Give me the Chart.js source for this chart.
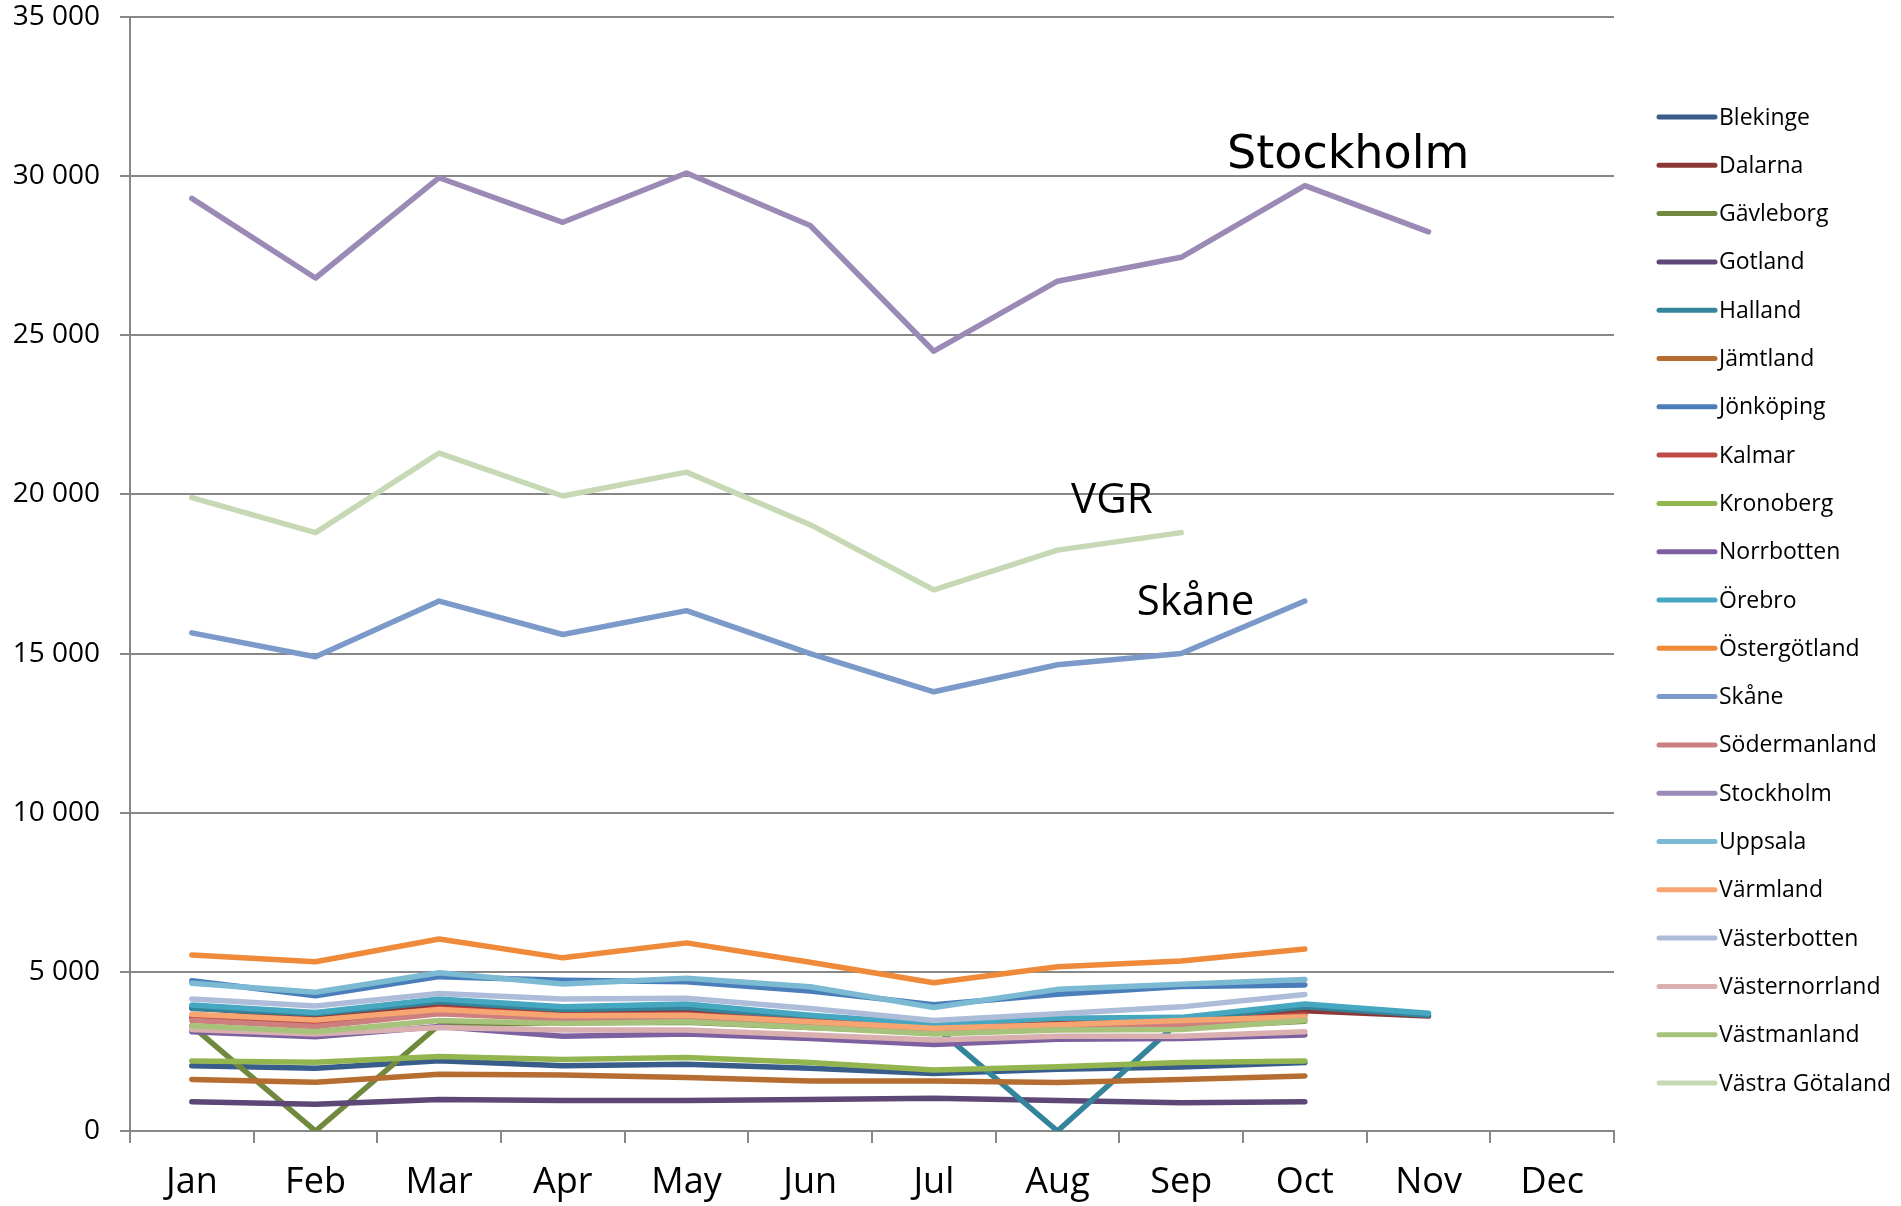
<!DOCTYPE html>
<html>
<head>
<meta charset="utf-8">
<script src="https://cdn.jsdelivr.net/npm/chart.js@4.4.1/dist/chart.umd.min.js"></script>
<style>
  html, body { margin: 0; padding: 0; background: #fff; }
  canvas { display: block; }
</style>
</head>
<body>
<canvas id="chart" width="1901" height="1206"></canvas>
<script>
// month labels on the x axis
const months = ['Jan', 'Feb', 'Mar', 'Apr', 'May', 'Jun', 'Jul', 'Aug', 'Sep', 'Oct', 'Nov', 'Dec'];

// y axis ticks
const yMin = 0;
const yMax = 35000;
const yStep = 5000;

// monthly values per region
const blekinge       = [2050, 1970, 2210, 2050, 2100, 1970, 1810, 1940, 2010, 2150, null, null];
const dalarna        = [3880, 3570, 3990, 3750, 3750, 3500, 3280, 3400, 3490, 3780, 3610, null];
const gavleborg      = [3300, 0, 3330, 3400, 3420, 3250, 3100, 3200, 3250, 3450, null, null];
const gotland        = [920, 840, 990, 960, 960, 990, 1030, 960, 890, 920, null, null];
const halland        = [3850, 3680, 4060, 3820, 3880, 3560, 3310, 0, 3490, 3900, 3640, null];
const jamtland       = [1620, 1530, 1780, 1760, 1680, 1570, 1570, 1520, 1620, 1730, null, null];
const jonkoping      = [4720, 4250, 4850, 4740, 4690, 4400, 3970, 4300, 4540, 4590, null, null];
const kalmar         = [3560, 3380, 3850, 3640, 3660, 3450, 3230, 3330, 3420, 3650, null, null];
const kronoberg      = [2200, 2160, 2340, 2250, 2310, 2150, 1920, 2020, 2150, 2200, null, null];
const norrbotten     = [3120, 2960, 3280, 2980, 3050, 2910, 2720, 2880, 2910, 3020, null, null];
const orebro         = [3960, 3720, 4150, 3900, 3990, 3640, 3360, 3540, 3570, 3990, 3700, null];
const ostergotland   = [5530, 5320, 6030, 5440, 5910, 5300, 4660, 5160, 5340, 5720, null, null];
const skane          = [15650, 14900, 16650, 15600, 16350, 15000, 13800, 14650, 15000, 16650, null, null];
const sodermanland   = [3470, 3280, 3680, 3520, 3540, 3330, 3130, 3250, 3340, 3520, null, null];
const stockholm      = [29300, 26800, 29950, 28550, 30100, 28450, 24500, 26700, 27450, 29700, 28250, null];
const uppsala        = [4640, 4360, 4970, 4620, 4800, 4530, 3880, 4450, 4610, 4760, null, null];
const varmland       = [3670, 3490, 3820, 3620, 3640, 3430, 3230, 3340, 3470, 3590, null, null];
const vasterbotten   = [4150, 3930, 4320, 4150, 4170, 3850, 3470, 3680, 3900, 4290, null, null];
const vasternorrland = [3190, 3050, 3250, 3170, 3170, 3020, 2860, 2980, 2980, 3120, null, null];
const vastmanland    = [3310, 3120, 3470, 3380, 3430, 3250, 3050, 3170, 3190, 3470, null, null];
const vastraGotaland = [19900, 18800, 21300, 19950, 20700, 19050, 17000, 18250, 18800, null, null, null];

const series = [
  ['Blekinge', blekinge, '#385D8A'],
  ['Dalarna', dalarna, '#8C3836'],
  ['Gävleborg', gavleborg, '#71893F'],
  ['Gotland', gotland, '#5C4776'],
  ['Halland', halland, '#34849B'],
  ['Jämtland', jamtland, '#B66D31'],
  ['Jönköping', jonkoping, '#4A7EBB'],
  ['Kalmar', kalmar, '#BE4B48'],
  ['Kronoberg', kronoberg, '#93B54F'],
  ['Norrbotten', norrbotten, '#7D60A0'],
  ['Örebro', orebro, '#46A7C0'],
  ['Östergötland', ostergotland, '#EE8A3A'],
  ['Skåne', skane, '#7B9AC9'],
  ['Södermanland', sodermanland, '#CC7F7E'],
  ['Stockholm', stockholm, '#9B89B6'],
  ['Uppsala', uppsala, '#7BBAD2'],
  ['Värmland', varmland, '#F7A671'],
  ['Västerbotten', vasterbotten, '#ADBDD9'],
  ['Västernorrland', vasternorrland, '#D9B0AF'],
  ['Västmanland', vastmanland, '#A7C27B'],
  ['Västra Götaland', vastraGotaland, '#C7D8B4']
];

// text labels placed in the plot (x = category index, y = value at baseline)
const notes = [
  { text: 'Stockholm', x: 9.35, y: 30250, align: 'center', font: '46px "DejaVu Sans"' },
  { text: 'VGR', x: 7.11, y: 19410, align: 'left', font: '42px "Open Sans"' },
  { text: 'Skåne', x: 7.64, y: 16210, align: 'left', font: '42px "Open Sans"' }
];

const axisGrey = '#878787';

const notesPlugin = {
  id: 'notes',
  afterDatasetsDraw(chart) {
    const ctx = chart.ctx;
    const xs = chart.scales.x, ys = chart.scales.y;
    ctx.save();
    ctx.fillStyle = '#000';
    ctx.textBaseline = 'alphabetic';
    notes.forEach(n => {
      ctx.font = n.font;
      ctx.textAlign = n.align;
      ctx.fillText(n.text, xs.getPixelForValue(n.x), ys.getPixelForValue(n.y));
    });
    ctx.restore();
  }
};

// legend on the right, one short line per region
const legendPlugin = {
  id: 'sideLegend',
  afterDraw(chart) {
    const ctx = chart.ctx;
    const x0 = 1659, lineLen = 56, top = 117, step = 48.3;
    ctx.save();
    ctx.font = '23px "Open Sans"';
    ctx.textBaseline = 'middle';
    ctx.textAlign = 'left';
    chart.data.datasets.forEach((ds, i) => {
      const y = top + i * step;
      ctx.strokeStyle = ds.borderColor;
      ctx.lineWidth = 5;
      ctx.lineCap = 'round';
      ctx.beginPath();
      ctx.moveTo(x0, y);
      ctx.lineTo(x0 + lineLen, y);
      ctx.stroke();
      ctx.fillStyle = '#000';
      ctx.fillText(ds.label, x0 + lineLen + 4, y + 1);
    });
    ctx.restore();
  }
};

new Chart(document.getElementById('chart').getContext('2d'), {
  type: 'line',
  data: {
    labels: months,
    datasets: series.map((s, i) => ({
      label: s[0],
      data: s[1],
      borderColor: s[2],
      backgroundColor: s[2],
      borderWidth: 5.5,
      borderCapStyle: 'round',
      borderJoinStyle: 'round',
      pointRadius: 0,
      tension: 0,
      fill: false,
      spanGaps: false,
      order: series.length - i
    }))
  },
  options: {
    responsive: false,
    animation: false,
    devicePixelRatio: 1,
    layout: { padding: { left: 0, right: 287, top: 0, bottom: 0 } },
    plugins: {
      legend: { display: false },
      tooltip: { enabled: false }
    },
    scales: {
      x: {
        offset: true,
        afterFit: s => { s.height = 75; s.paddingLeft = 0; s.paddingRight = 0; },
        grid: {
          offset: true,
          drawOnChartArea: false,
          drawTicks: true,
          tickLength: 12,
          color: axisGrey,
          lineWidth: 2
        },
        border: { color: axisGrey, width: 2 },
        ticks: {
          color: '#000',
          font: { family: 'Open Sans', size: 36 },
          padding: 18,
          maxRotation: 0
        }
      },
      y: {
        min: yMin,
        max: yMax,
        afterFit: s => { s.width = 130; s.paddingTop = 17; s.paddingBottom = 0; },
        grid: { color: axisGrey, lineWidth: 2, tickLength: 10 },
        border: { color: axisGrey, width: 2 },
        ticks: {
          stepSize: yStep,
          color: '#000',
          font: { family: 'Open Sans', size: 28 },
          padding: 20,
          callback: v => String(v).replace(/\B(?=(\d{3})+(?!\d))/g, ' ')
        }
      }
    }
  },
  plugins: [notesPlugin, legendPlugin]
});
</script>
</body>
</html>
